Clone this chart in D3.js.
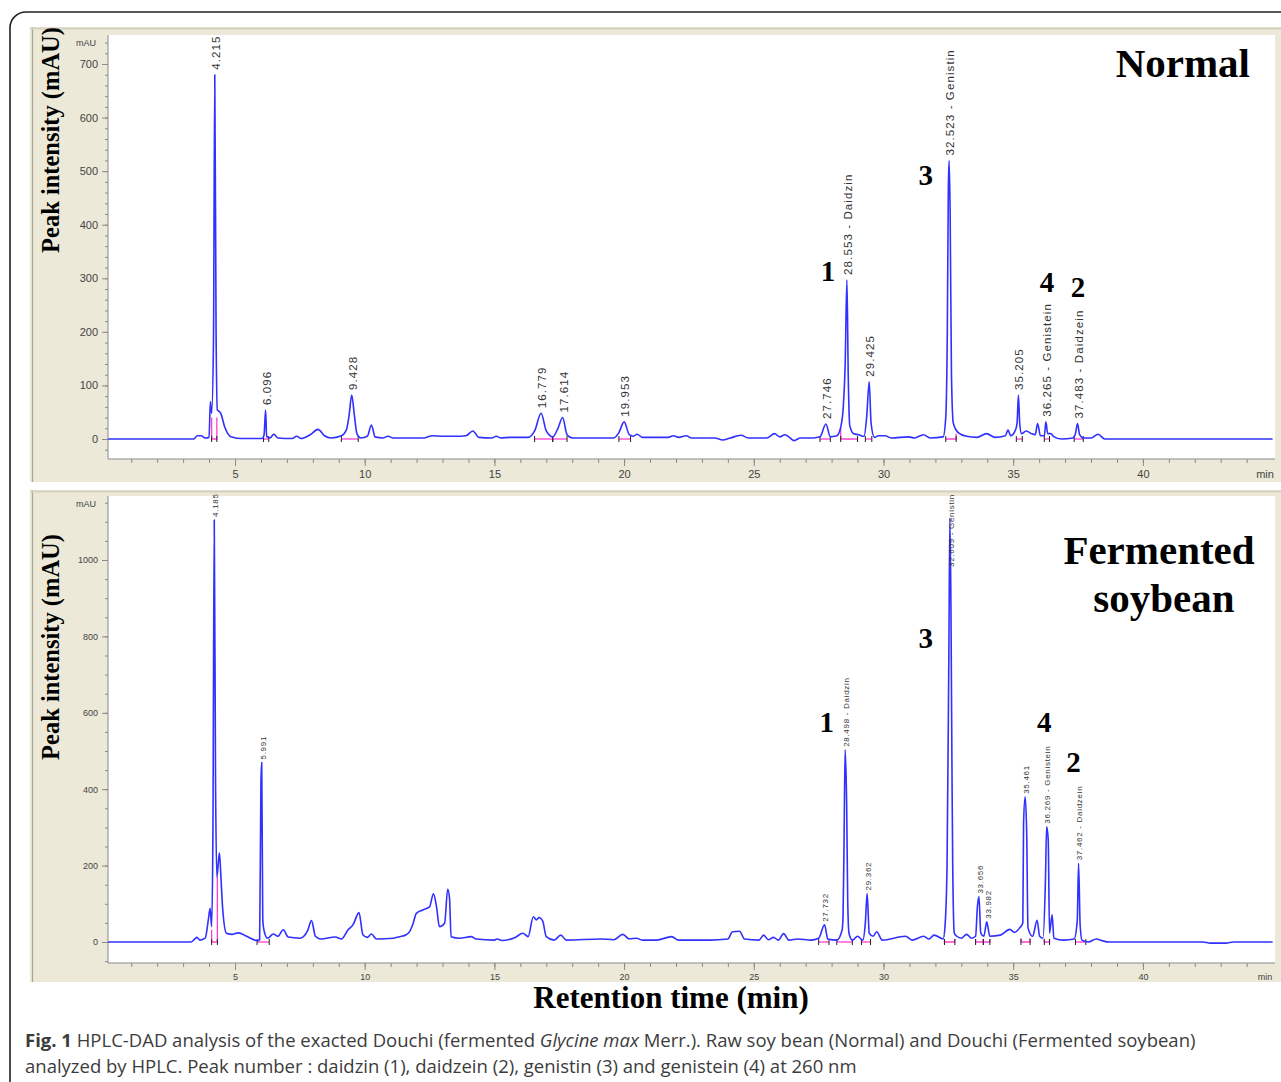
<!DOCTYPE html>
<html>
<head>
<meta charset="utf-8">
<script src="https://cdn.jsdelivr.net/npm/d3@7"></script>
<style>
body { margin: 0; background: #fff; }
svg { display: block; }
</style>
</head>
<body>
<div id="chart"></div>
<script>
var w = 1281, h = 1082;

// chromatogram traces: [retention time (min), mAU]
var normalTrace = [[0.1,0],[3.4,0],[3.55,6],[3.7,6],[3.85,2],[4.0,3],[4.05,70],[4.1,48],[4.17,180],[4.22,680],[4.27,205],[4.32,54],[4.38,52],[4.45,48],[4.6,23],[4.85,4],[5.2,1],[6.05,1],[6.12,8],[6.18,54],[6.22,5],[6.35,2],[6.5,9],[6.65,2],[7.2,1],[7.38,5],[7.55,1],[7.9,8],[8.2,18],[8.45,6],[8.7,2],[9.1,6],[9.3,18],[9.4,45],[9.5,82],[9.6,45],[9.7,10],[9.85,2],[10.1,5],[10.26,26],[10.4,4],[10.7,2],[10.9,5],[11.1,2],[12.3,2],[12.6,6],[13.0,5],[13.5,5],[13.9,6],[14.17,15],[14.4,3],[14.9,2],[15.07,5],[15.25,2],[15.6,3],[16.3,3],[16.55,15],[16.8,48],[17.0,15],[17.25,4],[17.45,20],[17.63,40],[17.8,8],[18.0,2],[19.6,2],[19.8,12],[20.0,32],[20.2,8],[20.35,5],[20.5,9],[20.7,3],[21.7,3],[21.9,6],[22.1,3],[22.4,6],[22.6,2],[23.5,2],[23.8,-2],[24.1,2],[24.5,7],[24.8,2],[25.5,2],[25.8,10],[26.0,4],[26.2,8],[26.4,2],[26.55,-3],[26.8,2],[27.3,2],[27.55,4],[27.78,28],[27.95,4],[28.2,6],[28.35,22],[28.45,60],[28.52,135],[28.59,297],[28.64,120],[28.7,25],[28.85,10],[29.04,8],[29.25,5],[29.35,40],[29.45,107],[29.52,30],[29.65,3],[29.8,6],[30.06,6],[30.3,2],[30.96,4],[31.2,2],[31.54,8],[31.8,2],[32.3,4],[32.4,40],[32.46,200],[32.5,470],[32.53,520],[32.57,420],[32.62,120],[32.69,30],[32.88,12],[33.2,5],[33.6,3],[33.97,10],[34.3,3],[34.7,6],[34.8,17],[34.9,6],[35.09,17],[35.15,30],[35.2,82],[35.25,30],[35.32,10],[35.5,15],[35.7,10],[35.85,8],[35.94,29],[36.05,6],[36.2,6],[36.26,32],[36.33,10],[36.45,10],[36.55,5],[36.86,0],[37.3,2],[37.4,10],[37.48,29],[37.56,8],[37.7,2],[38.0,2],[38.27,9],[38.53,0],[45,0]];

var fermentedTrace = [[0.1,0],[3.3,0],[3.45,8],[3.53,12],[3.65,5],[3.85,10],[3.97,57],[4.04,88],[4.1,40],[4.15,300],[4.2,1105],[4.25,420],[4.3,170],[4.36,210],[4.4,233],[4.45,180],[4.52,92],[4.67,23],[4.9,20],[5.13,24],[5.45,15],[5.84,4],[5.95,6],[6.0,420],[6.03,470],[6.07,60],[6.12,30],[6.25,10],[6.48,21],[6.65,15],[6.86,32],[7.05,13],[7.5,10],[7.8,30],[7.95,56],[8.1,15],[8.3,8],[8.87,13],[9.1,8],[9.36,32],[9.55,45],[9.78,77],[9.93,19],[10.1,12],[10.26,21],[10.45,8],[11.1,10],[11.35,14],[11.6,19],[11.73,27],[11.85,45],[11.99,75],[12.24,84],[12.5,92],[12.65,126],[12.77,92],[12.88,40],[13.08,49],[13.2,138],[13.27,115],[13.33,14],[13.65,10],[14.1,14],[14.3,8],[15.0,5],[15.1,8],[15.3,4],[15.8,12],[16.1,23],[16.3,14],[16.5,66],[16.62,58],[16.72,64],[16.86,55],[17.0,14],[17.3,5],[17.56,18],[17.77,5],[19.1,8],[19.6,6],[19.95,20],[20.2,8],[20.47,10],[20.7,5],[21.25,5],[21.83,14],[22.1,5],[23.3,5],[24.0,8],[24.18,27],[24.45,28],[24.64,8],[25.2,5],[25.38,18],[25.56,6],[25.76,12],[25.95,5],[26.15,22],[26.35,5],[26.7,8],[27.2,5],[27.5,10],[27.73,45],[27.85,8],[28.2,5],[28.4,30],[28.44,66],[28.48,267],[28.52,503],[28.58,359],[28.62,110],[28.67,23],[28.8,5],[29.0,15],[29.2,5],[29.3,50],[29.37,127],[29.45,23],[29.6,15],[29.74,27],[29.95,5],[30.85,15],[31.1,5],[31.55,15],[31.75,8],[31.95,18],[32.3,8],[32.37,40],[32.45,200],[32.52,760],[32.56,1110],[32.6,880],[32.64,450],[32.67,188],[32.73,23],[32.83,15],[33.0,10],[33.2,20],[33.4,10],[33.55,15],[33.62,92],[33.68,119],[33.75,23],[33.87,15],[33.98,53],[34.1,15],[34.5,18],[34.87,33],[35.05,25],[35.25,37],[35.37,50],[35.4,311],[35.46,380],[35.52,285],[35.57,37],[35.75,15],[35.92,57],[36.02,15],[36.15,10],[36.24,153],[36.29,302],[36.35,267],[36.4,23],[36.5,71],[36.57,10],[36.95,5],[37.35,8],[37.47,57],[37.52,206],[37.58,45],[37.65,5],[37.9,0],[38.2,8],[38.45,3],[38.7,0],[42.3,0],[42.6,-3],[43.2,-3],[43.5,0],[45,0]];

// peak labels: [apex time, text, optional mAU where the label starts]
var normalPeaks = [[4.22,"4.215"],[6.18,"6.096"],[9.5,"9.428"],[16.8,"16.779"],[17.63,"17.614"],[20.0,"19.953"],[27.78,"27.746"],[28.59,"28.553 - Daidzin"],[29.45,"29.425"],[32.53,"32.523 - Genistin"],[35.2,"35.205"],[36.26,"36.265 - Genistein"],[37.48,"37.483 - Daidzein"]];
var fermentedPeaks = [[4.2,"4.185"],[6.03,"5.991"],[27.73,"27.732"],[28.52,"28.498 - Daidzin"],[29.37,"29.362"],[32.56,"32.609 - Genistin",982],[33.68,"33.656"],[33.98,"33.982"],[35.46,"35.461"],[36.29,"36.269 - Genistein"],[37.52,"37.462 - Daidzein"]];

// integration baselines: [start, end, left drop (mAU), right drop (mAU)]
var normalMarks = [[4.1,4.3,40,40],[6.1,6.3,0,0],[9.1,9.75,0,0],[16.55,17.25,0,0],[17.25,17.8,0,0],[19.8,20.25,0,0],[27.55,27.95,0,0],[28.35,29.0,20,0],[29.3,29.55,0,0],[32.4,32.8,0,10],[35.12,35.35,0,0],[36.2,36.4,0,0],[37.35,37.7,0,0]];
var fermentedMarks = [[4.1,4.32,32,170],[5.85,6.32,0,0],[27.5,27.9,0,0],[28.2,28.8,0,0],[29.15,29.5,0,0],[32.35,32.75,8,8],[33.55,33.85,8,8],[33.85,34.1,8,8],[35.3,35.65,10,10],[36.2,36.4,8,8],[37.4,37.8,0,0]];

// compound numbers: [number, time, mAU]
var normalNumbers = [["1",27.86,295],["3",31.63,474],["4",36.3,274],["2",37.5,265]];
var fermentedNumbers = [["1",27.81,550],["3",31.63,769],["4",36.2,550],["2",37.32,446]];

var timeMajor = [5,10,15,20,25,30,35,40];
var timeMinor = d3.range(1,45);
var normalYTicks = [0,100,200,300,400,500,600,700];
var fermentedYTicks = [0,200,400,600,800,1000];

var svg = d3.select("#chart").append("svg")
    .attr("width", w)
    .attr("height", h);

var x = d3.scaleLinear().domain([0,45]).range([105.3, 105.3 + 45*25.94]);

var panels = [
  {name:"Normal", top:27, bottom:482, plotTop:35, axisY:459, trace:normalTrace, peaks:normalPeaks,
   marks:normalMarks, nums:normalNumbers, y:d3.scaleLinear().domain([0,700]).range([439,64]),
   yMajor:normalYTicks, yMinor:d3.range(-20,741,20), tickFont:11, peakFont:11.5, peakSpacing:1.1, gap:5, titleY:140},
  {name:"Fermented", top:490, bottom:982, plotTop:496, axisY:963, trace:fermentedTrace, peaks:fermentedPeaks,
   marks:fermentedMarks, nums:fermentedNumbers, y:d3.scaleLinear().domain([0,1000]).range([942,560]),
   yMajor:fermentedYTicks, yMinor:d3.range(-50,1151,50), tickFont:9, peakFont:8, peakSpacing:0.7, gap:3, titleY:647}
];

panels.forEach(function(p, i) {
    var y = p.y;
    var g = svg.append("g");

    // beige frame and white plot
    g.append("rect").attr("x",30).attr("y",p.top).attr("width",w-30).attr("height",p.bottom-p.top).attr("fill","#ece9d8");
    g.append("line").attr("x1",32.5).attr("x2",32.5).attr("y1",p.top).attr("y2",p.bottom).attr("stroke","#a9a696").attr("stroke-width",1.2);
    g.append("line").attr("x1",30).attr("x2",w).attr("y1",p.top+1.5).attr("y2",p.top+1.5).attr("stroke","#d6d2bf").attr("stroke-width",2);
    g.append("rect").attr("x",108).attr("y",p.plotTop).attr("width",1275-108).attr("height",p.axisY-p.plotTop).attr("fill","#fff");

    svg.append("clipPath").attr("id","clip"+i)
      .append("rect").attr("x",108).attr("y",p.plotTop).attr("width",1275-108).attr("height",p.axisY-p.plotTop);

    // y axis
    var yMinorAxis = d3.axisLeft(y).tickValues(p.yMinor).tickSize(3).tickSizeOuter(0).tickFormat("");
    var yAxis = d3.axisLeft(y).tickValues(p.yMajor).tickSize(6).tickSizeOuter(0).tickPadding(4).tickFormat(d3.format("d"));
    g.append("g").attr("transform","translate(108,0)").call(yMinorAxis);
    g.append("g").attr("transform","translate(108,0)").call(yAxis);

    // x axis
    var xMinorAxis = d3.axisBottom(x).tickValues(timeMinor).tickSize(4).tickSizeOuter(0).tickFormat("");
    var xAxis = d3.axisBottom(x).tickValues(timeMajor).tickSize(7).tickSizeOuter(0).tickPadding(4);
    g.append("g").attr("transform","translate(0,"+p.axisY+")").call(xMinorAxis);
    g.append("g").attr("transform","translate(0,"+p.axisY+")").call(xAxis);

    g.selectAll(".domain").remove();
    g.selectAll(".tick line").attr("stroke","#8a8a8a");
    g.selectAll(".tick text").attr("fill","#444").style("font-family","'Liberation Sans', Arial, sans-serif").style("font-size",p.tickFont+"px");

    g.append("line").attr("x1",108).attr("x2",108).attr("y1",p.plotTop).attr("y2",p.axisY).attr("stroke","#8a8a8a");
    g.append("line").attr("x1",108).attr("x2",1275).attr("y1",p.axisY).attr("y2",p.axisY).attr("stroke","#8a8a8a");

    g.append("text").attr("x",96).attr("y",p.plotTop+11).attr("text-anchor","end")
      .style("font-family","'Liberation Sans', Arial, sans-serif").style("font-size","9px").attr("fill","#444").text("mAU");
    g.append("text").attr("x",1265).attr("y",p.axisY+4+p.tickFont+4).attr("text-anchor","middle")
      .style("font-family","'Liberation Sans', Arial, sans-serif").style("font-size",p.tickFont+"px").attr("fill","#444").text("min");

    var plot = g.append("g").attr("clip-path","url(#clip"+i+")");

    // integration marks
    p.marks.forEach(function(m) {
        var x0 = x(m[0]), x1 = x(m[1]), yb = y(0);
        plot.append("path")
          .attr("d","M"+x0+","+y(m[2])+"L"+x0+","+yb+"L"+x1+","+yb+"L"+x1+","+y(m[3]))
          .attr("fill","none").attr("stroke","#ff3fd0").attr("stroke-width",1.3);
        [x0,x1].forEach(function(xx) {
            plot.append("line").attr("x1",xx).attr("x2",xx).attr("y1",yb-3).attr("y2",yb+3).attr("stroke","#222").attr("stroke-width",1);
        });
    });

    var line = d3.line()
        .x(function(d) { return x(d[0]); })
        .y(function(d) { return y(d[1]); })
        .curve(d3.curveMonotoneX);

    plot.append("path").datum(p.trace)
      .attr("d", line)
      .attr("fill","none")
      .attr("stroke","#3030ff")
      .attr("stroke-width",1.6)
      .attr("stroke-linejoin","round");

    // peak labels
    p.peaks.forEach(function(pk) {
        var apex = d3.max(p.trace.filter(function(d) { return Math.abs(d[0]-pk[0]) <= 0.05; }), function(d) { return d[1]; });
        var y0 = pk.length > 2 ? y(pk[2]) : y(apex) - p.gap;
        g.append("text")
          .attr("transform","translate("+(x(pk[0])+1)+","+y0+") rotate(-90)")
          .attr("dy","0.35em")
          .style("font-family","'Liberation Sans', Arial, sans-serif")
          .style("font-size",p.peakFont+"px")
          .style("letter-spacing",p.peakSpacing+"px")
          .attr("fill","#333")
          .text(pk[1]);
    });

    // compound numbers
    g.selectAll(".num").data(p.nums).enter().append("text")
      .attr("x", function(d) { return x(d[1]); })
      .attr("y", function(d) { return y(d[2]); })
      .attr("text-anchor","middle")
      .style("font-family","'Liberation Serif', 'Times New Roman', serif")
      .style("font-weight","bold")
      .style("font-size","29px")
      .attr("fill","#000")
      .text(function(d) { return d[0]; });

    g.append("text")
      .attr("transform","translate(59,"+p.titleY+") rotate(-90)")
      .attr("text-anchor","middle")
      .style("font-family","'Liberation Serif', 'Times New Roman', serif")
      .style("font-weight","bold")
      .style("font-size","24.5px")
      .attr("fill","#000")
      .text("Peak intensity (mAU)");
});

var serifBold = function(sel, size) {
    return sel.style("font-family","'Liberation Serif', 'Times New Roman', serif").style("font-weight","bold").style("font-size",size+"px").attr("fill","#000");
};

serifBold(svg.append("text").attr("x",1250).attr("y",77).attr("text-anchor","end"), 41).text("Normal");
serifBold(svg.append("text").attr("x",1159).attr("y",564).attr("text-anchor","middle"), 41).text("Fermented");
serifBold(svg.append("text").attr("x",1164).attr("y",612).attr("text-anchor","middle"), 41).text("soybean");
serifBold(svg.append("text").attr("x",671).attr("y",1008).attr("text-anchor","middle"), 31).text("Retention time (min)");

// caption
var capStyle = function(sel) {
    return sel.style("font-family","'Open Sans', 'Noto Sans', sans-serif").style("font-size","18.5px").attr("fill","#3c3c3c");
};
var cap1 = capStyle(svg.append("text").attr("x",25).attr("y",1047));
cap1.append("tspan").style("font-weight","bold").text("Fig. 1");
cap1.append("tspan").text(" HPLC-DAD analysis of the exacted Douchi (fermented ");
cap1.append("tspan").style("font-style","italic").text("Glycine max");
cap1.append("tspan").text(" Merr.). Raw soy bean (Normal) and Douchi (Fermented soybean)");
capStyle(svg.append("text").attr("x",25).attr("y",1073))
  .text("analyzed by HPLC. Peak number : daidzin (1), daidzein (2), genistin (3) and genistein (4) at 260 nm");

// outer rounded frame
svg.append("rect").attr("x",10).attr("y",12).attr("width",1320).attr("height",1120).attr("rx",16)
  .attr("fill","none").attr("stroke","#222").attr("stroke-width",1.6);
</script>
</body>
</html>
